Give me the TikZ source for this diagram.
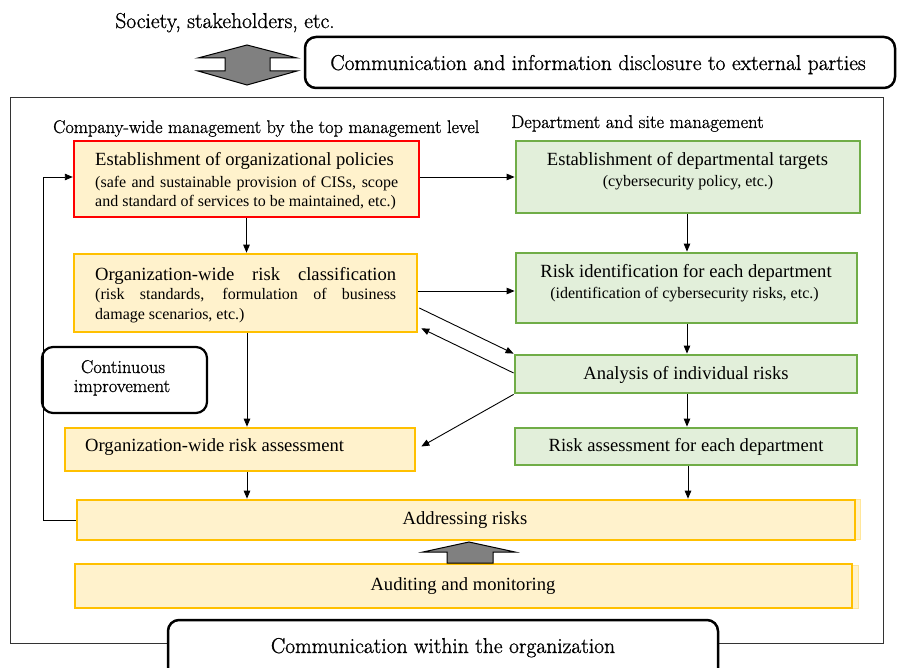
\documentclass[tikz,border=0pt]{standalone}
\usepackage{fontspec}
\newfontfamily\tnr{Liberation Serif}
\newfontfamily\lmr[FakeBold=1.0]{Latin Modern Roman}
\usetikzlibrary{arrows.meta,calc}
\definecolor{ofill}{HTML}{FFF2CC}
\definecolor{oline}{HTML}{FFC000}
\definecolor{oshade}{HTML}{FFE699}
\definecolor{gfill}{HTML}{E2EFDA}
\definecolor{gline}{HTML}{70AD47}
\definecolor{redline}{HTML}{FF0000}
\definecolor{arrgray}{HTML}{808080}
\definecolor{framegray}{HTML}{333333}
\tikzset{
  obox/.style={draw=oline, fill=ofill, line width=2.6pt, inner sep=0pt},
  rbox/.style={draw=redline, fill=ofill, line width=2.4pt, inner sep=0pt},
  gbox/.style={draw=gline, fill=gfill, line width=2.8pt, inner sep=0pt},
  rounded box/.style={draw=black, fill=white, line width=2.2pt, rounded corners=11pt, inner sep=0pt},
  conn/.style={-{Triangle[length=8pt,width=6.5pt]}, line width=0.9pt},
  ttl/.style={font=\tnr\fontsize{18.6}{22}\selectfont, inner sep=0pt},
  sub/.style={font=\tnr\fontsize{16}{19}\selectfont, inner sep=0pt},
  lbl/.style={font=\lmr\fontsize{18.5}{22}\selectfont, inner sep=0pt},
  big/.style={font=\lmr\fontsize{21.5}{25}\selectfont, inner sep=0pt},
  bigarrow/.style={draw=black, fill=arrgray, line width=1pt, line join=miter}
}
\begin{document}
\begin{tikzpicture}[x=1pt,y=-1pt]
\useasboundingbox (0,0) rectangle (898,668);
\clip (0,0) rectangle (898,668);
\fill[white] (0,0) rectangle (898,668);

% top part
\node[big, anchor=base] (soc) at (225,28) {Society, stakeholders, etc.};
\draw[bigarrow] (247,45) -- (297,58) -- (270,58) -- (270,71) -- (297,71) -- (247,85)
  -- (198,71) -- (225,71) -- (225,58) -- (198,58) -- cycle;
\node[rounded box, minimum width=590pt, minimum height=51pt, line width=2.5pt] (ext) at (600,62.5) {};
\node[big, anchor=base] (extt) at (598,70) {Communication and information disclosure to external parties};

% frame
\draw[framegray, line width=1pt] (10,98) rectangle (883,643);

% column labels
\node[lbl, anchor=base west, font=\lmr\fontsize{18.3}{22}\selectfont] (lblL) at (53,133) {Company-wide management by the top management level};
\node[lbl, anchor=base west] (lblR) at (511,128) {Department and site management};

% boxes
\node[rbox, minimum width=345pt, minimum height=76pt] (A) at (246.5,179) {};
\node[gbox, minimum width=344pt, minimum height=72pt] (B) at (688,177) {};
\node[obox, minimum width=343pt, minimum height=78pt] (C) at (245.5,293) {};
\node[gbox, minimum width=341pt, minimum height=70pt] (D) at (686.5,288) {};
\node[gbox, minimum width=342pt, minimum height=38pt] (E) at (686,374) {};
\node[obox, minimum width=350pt, minimum height=43pt] (F) at (240,449.5) {};
\node[gbox, minimum width=342pt, minimum height=37pt] (G) at (686,446.5) {};
\fill[ofill] (855,500) rectangle (860,540);
\draw[oshade, line width=1pt] (855,500) -- (860,500) -- (860,540) -- (855,540);
\node[obox, minimum width=778pt, minimum height=40pt] (H) at (466,520) {};
\fill[ofill] (852,565) rectangle (858,608);
\draw[oshade, line width=1pt] (852,565) -- (858,565) -- (858,608) -- (852,608);
\node[obox, minimum width=777pt, minimum height=44pt] (I) at (463.5,586) {};
\node[rounded box, minimum width=165pt, minimum height=66pt] (cont) at (124.5,380) {};
\node[rounded box, minimum width=550pt, minimum height=90pt, line width=2.5pt] (int) at (443,665) {};

% box texts
\node[ttl, anchor=base west] (At1) at (95,166) {Establishment of organizational policies};
\node[sub, anchor=base west] (At2) at (95,187.5) {\makebox[303pt][s]{(safe and sustainable provision of CISs, scope}};
\node[sub, anchor=base west] (At3) at (95,206.5) {and standard of services to be maintained, etc.)};
\node[ttl, anchor=base] (Bt1) at (687.5,166) {Establishment of departmental targets};
\node[sub, anchor=base] (Bt2) at (688,186.5) {(cybersecurity policy, etc.)};
\node[ttl, anchor=base west] (Ct1) at (95,281) {\makebox[301pt][s]{Organization-wide risk classification}};
\node[sub, anchor=base west] (Ct2) at (95,299.5) {\makebox[301pt][s]{(risk standards, formulation of business}};
\node[sub, anchor=base west] (Ct3) at (95,319.5) {damage scenarios, etc.)};
\node[ttl, anchor=base] (Dt1) at (686,278) {Risk identification for each department};
\node[sub, anchor=base] (Dt2) at (684.5,298.5) {(identification of cybersecurity risks, etc.)};
\node[ttl, anchor=base] (Et) at (686,380) {Analysis of individual risks};
\node[ttl, anchor=base west] (Ft) at (85,452) {Organization-wide risk assessment};
\node[ttl, anchor=base] (Gt) at (686,452) {Risk assessment for each department};
\node[ttl, anchor=base] (Ht) at (465,525) {Addressing risks};
\node[ttl, anchor=base] (It) at (463,590) {Auditing and monitoring};
\node[lbl, anchor=base] (contt1) at (123,373) {Continuous};
\node[lbl, anchor=base] (contt2) at (122,392) {improvement};
\node[big, anchor=base] (intt) at (443,653) {Communication within the organization};

% up arrow
\draw[bigarrow] (469,542) -- (515,552) -- (493,552) -- (493,563) -- (447,563) -- (447,552) -- (423,552) -- cycle;

% connectors
\draw[conn] (A.east |- B.west) -- (B.west);
\draw[conn] (A.south) -- (A.south |- C.north);
\draw[conn] (B.south -| 687,0) -- (687,0 |- D.north);
\draw[conn] ($(C.east)+(0,-2)$) -- ($(D.west)+(0,3)$);
\draw[conn] ($(C.east)+(1,15)$) -- (E.north west);
\draw[conn] ($(E.west)+(0,-1)$) -- ($(C.south east)+(3,-5)$);
\draw[conn] (E.south west) -- ($(F.east)+(5,-3)$);
\draw[conn] (D.south -| 687,0) -- (687,0 |- E.north);
\draw[conn] (E.south -| 687,0) -- (687,0 |- G.north);
\draw[conn] (C.south -| 247,0) -- (247,0 |- F.north);
\draw[conn] (F.south -| 247,0) -- (247,0 |- H.north);
\draw[conn] (G.south -| 688,0) -- (688,0 |- H.north);
\coordinate (loopc) at (43,177);
\draw[conn] (H.west) -| (loopc) -- (loopc -| A.west);
\end{tikzpicture}
\end{document}
